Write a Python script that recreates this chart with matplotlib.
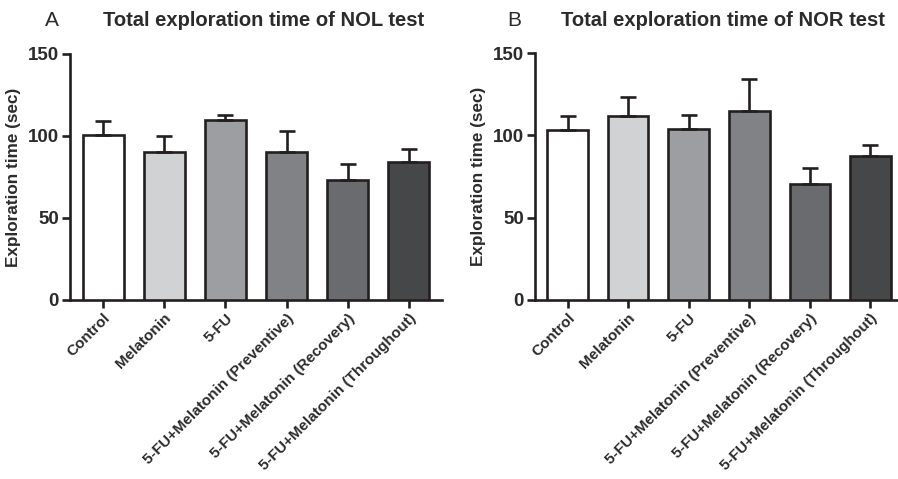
import numpy as np
import matplotlib
matplotlib.use('Agg')
import matplotlib.pyplot as plt

plt.rcParams['font.family'] = ['Liberation Sans', 'DejaVu Sans']

# groups
groups = ['Control', 'Melatonin', '5-FU', '5-FU+Melatonin (Preventive)',
          '5-FU+Melatonin (Recovery)', '5-FU+Melatonin (Throughout)']

# NOL test (panel A)
nol_mean = [100.6, 90.0, 109.8, 90.4, 73.0, 84.3]
nol_sem = [8.7, 10.0, 2.8, 12.6, 10.0, 8.0]

# NOR test (panel B)
nor_mean = [103.0, 111.8, 103.7, 115.0, 70.5, 87.5]
nor_sem = [8.6, 11.2, 8.9, 19.0, 9.4, 6.9]

colors = ['#ffffff', '#d1d2d4', '#9d9ea2', '#818286', '#6a6b6f', '#464749']
dark = '#231f20'
txt = '#2b2b2b'

fig = plt.figure(figsize=(8.98, 4.79), dpi=100)
axA = fig.add_axes([70/898, 1 - 300/479, 372/898, 246/479])
axB = fig.add_axes([535/898, 1 - 300/479, 368/898, 247/479])


def draw(ax, mean, sem, letter, title, lpos):
    x = np.arange(len(groups))
    up = np.array(sem)
    ax.bar(x, mean, width=0.67, color=colors, edgecolor=dark, linewidth=1.9,
           yerr=[np.zeros(len(up)), up], capsize=6,
           error_kw=dict(ecolor=dark, elinewidth=1.9, capthick=1.9), zorder=3)
    ax.set_xlim(-0.54, 5.54)
    ax.set_ylim(0, 150)
    ax.set_yticks([0, 50, 100, 150])
    ax.set_xticks(x)
    ax.set_xticklabels(groups, rotation=45, ha='right', rotation_mode='anchor',
                       fontsize=11, fontweight='bold', color=txt)
    for lab in ax.get_yticklabels():
        lab.set_fontweight('bold')
        lab.set_fontsize(13.5)
        lab.set_color(txt)
    ax.set_ylabel('Exploration time (sec)', fontsize=12.3, fontweight='bold',
                  color=txt, labelpad=5)
    ax.spines['top'].set_visible(False)
    ax.spines['right'].set_visible(False)
    for s in ['left', 'bottom']:
        ax.spines[s].set_linewidth(1.9)
        ax.spines[s].set_color(dark)
    ax.tick_params(axis='both', width=1.9, length=6, color=dark, pad=2)
    fig.text(lpos[0], lpos[1], letter, fontsize=15, color=txt,
             ha='center', va='center')
    fig.text(lpos[2], lpos[1], title, fontsize=14.5, fontweight='bold',
             color=txt, ha='center', va='center')


draw(axA, nol_mean, nol_sem, 'A', 'Total exploration time of NOL test',
     (52/898, 1 - 20/479, 264/898))
draw(axB, nor_mean, nor_sem, 'B', 'Total exploration time of NOR test',
     (514/898, 1 - 20/479, 723/898))

fig.savefig('out.png', dpi=100)
